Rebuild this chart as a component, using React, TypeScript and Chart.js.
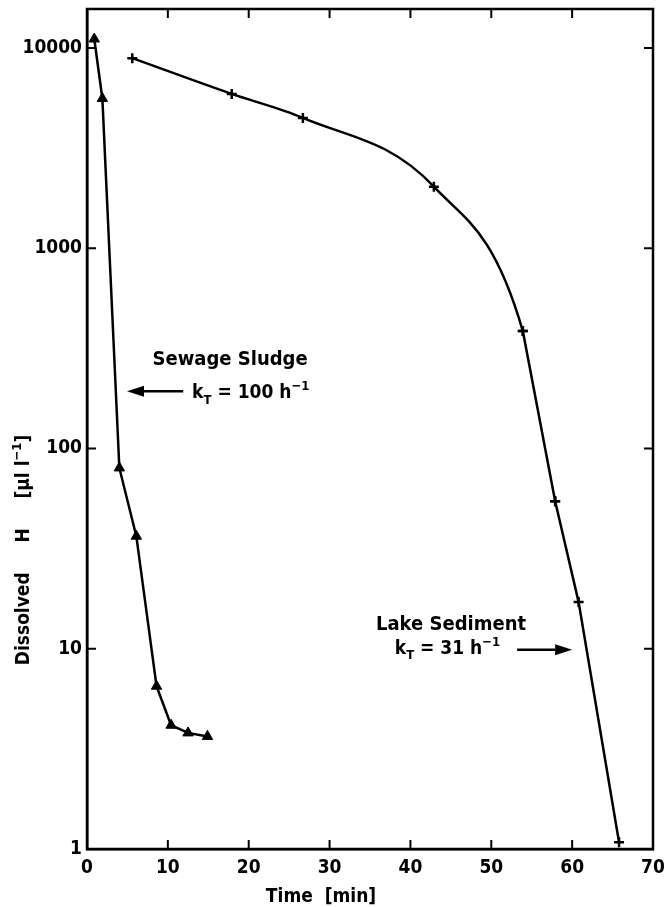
import { useEffect, useRef } from 'react';
import { Chart, registerables } from 'chart.js';

Chart.register(...registerables);

// ---- data ----
const sludgeTime = [0.9, 1.9, 4.0, 6.1, 8.6, 10.4, 12.5, 14.9];
const sludgeH = [11100, 5600, 80, 36.5, 6.5, 4.15, 3.8, 3.65];

const lakeTime = [5.6, 17.9, 26.7, 42.9, 53.9, 57.9, 60.8, 65.8];
const lakeH = [8900, 5900, 4480, 2030, 386, 54.5, 17.1, 1.08];
// the first points are joined by a smooth curve, the last ones by straight lines
const lakeCurveEnd = 4; // index where the curve ends and straight segments start

const yTickValues = [1, 10, 100, 1000, 10000];
const xMin = 0;
const xMax = 70;
const xStep = 10;
const yMin = 1;
const yMax = 15670;

const xTitle = 'Time  [min]';

const FONT = '"DejaVu Sans Condensed", "DejaVu Sans", sans-serif';

type Seg = { t: string; mode?: 'sub' | 'sup' };

function fontFor(seg: Seg, size: number) {
  const s = seg.mode ? Math.round(size * 0.68) : size;
  return `bold ${s}px ${FONT}`;
}

function drawSegs(ctx: CanvasRenderingContext2D, segs: Seg[], x: number, y: number, size: number, align: 'left' | 'right' | 'center') {
  const widths = segs.map((s) => {
    ctx.font = fontFor(s, size);
    return ctx.measureText(s.t).width;
  });
  const total = widths.reduce((a, b) => a + b, 0);
  let cx = align === 'left' ? x : align === 'right' ? x - total : x - total / 2;
  ctx.textAlign = 'left';
  ctx.textBaseline = 'alphabetic';
  segs.forEach((s, i) => {
    ctx.font = fontFor(s, size);
    const dy = s.mode === 'sub' ? size * 0.3 : s.mode === 'sup' ? -size * 0.42 : 0;
    ctx.fillText(s.t, cx, y + dy);
    cx += widths[i];
  });
}

function arrow(ctx: CanvasRenderingContext2D, x0: number, y0: number, x1: number, y1: number) {
  const dir = Math.sign(x1 - x0);
  const head = 17;
  ctx.beginPath();
  ctx.moveTo(x0, y0);
  ctx.lineTo(x1 - dir * head, y1);
  ctx.lineWidth = 2.5;
  ctx.strokeStyle = '#000';
  ctx.stroke();
  ctx.beginPath();
  ctx.moveTo(x1, y1);
  ctx.lineTo(x1 - dir * head, y1 - 5.5);
  ctx.lineTo(x1 - dir * head, y1 + 5.5);
  ctx.closePath();
  ctx.fillStyle = '#000';
  ctx.fill();
}

// annotation anchors in data space
const sewageTitle = { x: 8.1, y: 260, text: 'Sewage Sludge' };
const sewageRate = { x: 13.0, y: 178, value: '100' };
const sewageArrow = { from: 11.9, to: 4.95, y: 193 };
const lakeTitle = { x: 54.3, y: 12.4, text: 'Lake Sediment' };
const lakeRate = { x: 51.1, y: 9.44, value: '31' };
const lakeArrow = { from: 53.2, to: 60.0, y: 9.9 };

const framePlugin = {
  id: 'frame',
  afterDraw(chart: any) {
    const { ctx, chartArea: a, scales } = chart;
    const xs = scales.x;
    const ys = scales.y;
    ctx.save();
    ctx.strokeStyle = '#000';
    ctx.lineWidth = 2.5;
    ctx.beginPath();
    ctx.rect(a.left, a.top, a.right - a.left, a.bottom - a.top);
    ctx.stroke();

    // inward ticks
    ctx.lineWidth = 2;
    const tl = 9;
    for (let v = xMin + xStep; v < xMax; v += xStep) {
      const px = xs.getPixelForValue(v);
      ctx.beginPath();
      ctx.moveTo(px, a.bottom);
      ctx.lineTo(px, a.bottom - tl);
      ctx.moveTo(px, a.top);
      ctx.lineTo(px, a.top + tl);
      ctx.stroke();
    }
    yTickValues.forEach((v) => {
      if (v === yMin) return;
      const py = ys.getPixelForValue(v);
      ctx.beginPath();
      ctx.moveTo(a.left, py);
      ctx.lineTo(a.left + tl, py);
      ctx.moveTo(a.right, py);
      ctx.lineTo(a.right - tl, py);
      ctx.stroke();
    });

    ctx.fillStyle = '#000';
    // annotations
    drawSegs(ctx, [{ t: sewageTitle.text }], xs.getPixelForValue(sewageTitle.x), ys.getPixelForValue(sewageTitle.y), 20, 'left');
    drawSegs(
      ctx,
      [{ t: 'k' }, { t: 'T', mode: 'sub' }, { t: ' = ' + sewageRate.value + ' h' }, { t: '−1', mode: 'sup' }],
      xs.getPixelForValue(sewageRate.x),
      ys.getPixelForValue(sewageRate.y),
      19,
      'left'
    );
    arrow(ctx, xs.getPixelForValue(sewageArrow.from), ys.getPixelForValue(sewageArrow.y), xs.getPixelForValue(sewageArrow.to), ys.getPixelForValue(sewageArrow.y));

    drawSegs(ctx, [{ t: lakeTitle.text }], xs.getPixelForValue(lakeTitle.x), ys.getPixelForValue(lakeTitle.y), 20, 'right');
    drawSegs(
      ctx,
      [{ t: 'k' }, { t: 'T', mode: 'sub' }, { t: ' = ' + lakeRate.value + ' h' }, { t: '−1', mode: 'sup' }],
      xs.getPixelForValue(lakeRate.x),
      ys.getPixelForValue(lakeRate.y),
      19,
      'right'
    );
    arrow(ctx, xs.getPixelForValue(lakeArrow.from), ys.getPixelForValue(lakeArrow.y), xs.getPixelForValue(lakeArrow.to), ys.getPixelForValue(lakeArrow.y));

    // axis titles
    drawSegs(ctx, [{ t: xTitle }], 321, 902, 19, 'center');
    ctx.save();
    ctx.translate(29, 550);
    ctx.rotate(-Math.PI / 2);
    drawSegs(ctx, [{ t: 'Dissolved     H     [µl l' }, { t: '−1', mode: 'sup' }, { t: ']' }], 0, 0, 19, 'center');
    ctx.restore();
    ctx.restore();
  },
};

export default function App() {
  const ref = useRef<HTMLCanvasElement | null>(null);
  useEffect(() => {
    if (!ref.current) return;
    const lakePoints = lakeTime.map((t, i) => ({ x: t, y: lakeH[i] }));
    const chart = new Chart(ref.current, {
      type: 'line',
      data: {
        datasets: [
          {
            data: sludgeTime.map((t, i) => ({ x: t, y: sludgeH[i] })),
            borderColor: '#000',
            backgroundColor: '#000',
            borderWidth: 2.5,
            pointStyle: 'triangle',
            pointRadius: 6,
            pointBorderWidth: 1,
            tension: 0,
          },
          {
            // smooth part (includes the next point so the curve's end slope follows the data)
            data: lakePoints.slice(0, lakeCurveEnd + 2),
            borderColor: '#000',
            backgroundColor: '#000',
            borderWidth: 2.5,
            pointStyle: 'cross',
            pointRadius: 5,
            pointBorderWidth: 2.5,
            cubicInterpolationMode: 'monotone',
            segment: {
              borderColor: (c: any) => (c.p0DataIndex >= lakeCurveEnd ? 'rgba(0,0,0,0)' : '#000'),
            },
          },
          {
            data: lakePoints.slice(lakeCurveEnd),
            borderColor: '#000',
            backgroundColor: '#000',
            borderWidth: 2.5,
            pointStyle: 'cross',
            pointRadius: 5,
            pointBorderWidth: 2.5,
            tension: 0,
          },
        ],
      },
      options: {
        animation: false,
        responsive: true,
        maintainAspectRatio: false,
        layout: { padding: { top: 9, right: 15, left: 0, bottom: 0 } },
        plugins: { legend: { display: false }, tooltip: { enabled: false } },
        scales: {
          x: {
            type: 'linear',
            min: xMin,
            max: xMax,
            ticks: {
              stepSize: xStep,
              color: '#000',
              padding: 8,
              maxRotation: 0,
              font: { family: FONT, size: 19, weight: 'bold' },
            },
            grid: { drawOnChartArea: false, drawTicks: false },
            border: { color: '#000', width: 2.5 },
            afterFit: (s: any) => {
              s.height = 58;
              s.paddingLeft = 0;
              s.paddingRight = 0;
            },
          },
          y: {
            type: 'logarithmic',
            min: yMin,
            max: yMax,
            afterBuildTicks: (s: any) => {
              s.ticks = yTickValues.map((v) => ({ value: v }));
            },
            ticks: {
              color: '#000',
              padding: 5,
              font: { family: FONT, size: 19, weight: 'bold' },
              callback: (v: any) => String(v),
            },
            grid: { drawOnChartArea: false, drawTicks: false },
            border: { color: '#000', width: 2.5 },
            afterFit: (s: any) => {
              s.width = 87;
              s.paddingTop = 0;
              s.paddingBottom = 0;
            },
          },
        },
      },
      plugins: [framePlugin],
    } as any);
    return () => chart.destroy();
  }, []);
  return (
    <div style={{ position: 'absolute', left: 0, top: 0, width: 668, height: 907, background: '#fff' }}>
      <canvas ref={ref} />
    </div>
  );
}
